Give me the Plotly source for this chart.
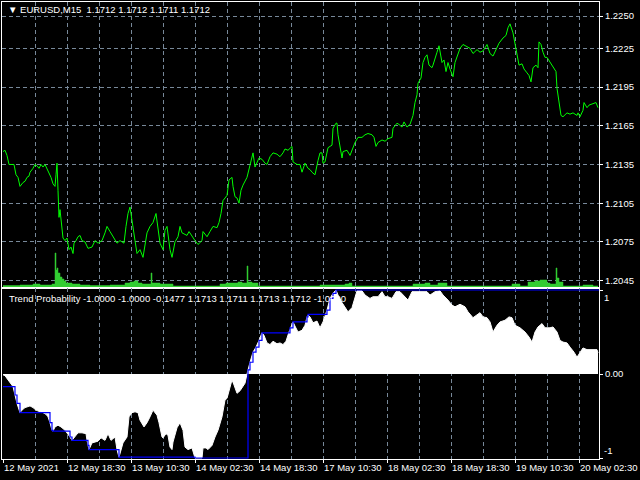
import plotly.graph_objects as go

# ---------------- data (x = M15 bar index from the left edge) ----------------
price_idx = [0, 2, 4, 6, 9, 11, 13, 15, 17, 20, 22, 24, 26, 27, 30, 32, 34, 36, 38, 40, 42, 44, 46, 48, 50, 52,
             53, 54, 55, 56, 57, 58, 59, 60, 62, 64, 66, 68, 70, 71, 73, 75, 77, 79, 82, 85, 89, 92, 95, 99,
             102, 104, 107, 110, 114, 117, 121, 123, 125, 127, 129, 130, 132, 134, 137, 140, 142, 144, 147,
             150, 153, 157, 160, 162, 164, 165, 167, 169, 172, 175, 177, 179, 184, 186, 189, 192, 195, 199,
             200, 204, 207, 210, 214, 216, 218, 220, 222, 224, 226, 229, 230, 232, 234, 236, 238, 240, 244,
             246, 249, 250, 252, 254, 256, 259, 262, 264, 267, 270, 274, 277, 280, 282, 285, 289, 290, 294,
             297, 299, 302, 305, 307, 309, 312, 315, 317, 319, 320, 322, 325, 329, 330, 333, 334, 335, 337,
             339, 340, 344, 347, 350, 352, 355, 359, 362, 365, 369, 371, 373, 375, 379, 382, 385, 389, 390,
             394, 396, 399, 401, 404, 407, 410, 412, 414, 415, 418, 420, 422, 424, 426, 429, 430, 434, 436,
             439, 441, 443, 445, 447, 450, 452, 454, 457, 460, 464, 467, 470, 474, 477, 480, 484, 487, 490,
             493, 496, 500, 503, 505, 507, 510, 512, 514, 516, 519, 521, 524, 526, 528, 530, 533, 535, 536,
             538, 540, 542, 544, 547, 550, 553, 554, 556, 558, 560, 564, 567, 570, 574, 575, 577, 580, 581,
             584, 586, 590, 593, 595]
price_close = [1.2145, 1.2146, 1.2142, 1.2135, 1.2135, 1.2135, 1.2127, 1.2125, 1.2118, 1.2121, 1.2122, 1.2125,
               1.2126, 1.2129, 1.2132, 1.2135, 1.2134, 1.2132, 1.2135, 1.2133, 1.2135, 1.2132, 1.2128, 1.2125,
               1.2120, 1.2118, 1.2127, 1.2136, 1.2115, 1.2094, 1.2100, 1.2092, 1.2084, 1.2078, 1.2076, 1.2078,
               1.2069, 1.2071, 1.2066, 1.2074, 1.2076, 1.2079, 1.2080, 1.2076, 1.2075, 1.2070, 1.2071, 1.2076,
               1.2074, 1.2076, 1.2082, 1.2087, 1.2083, 1.2079, 1.2074, 1.2076, 1.2074, 1.2087, 1.2097, 1.2102,
               1.2090, 1.2087, 1.2076, 1.2066, 1.2069, 1.2063, 1.2071, 1.2082, 1.2087, 1.2090, 1.2097, 1.2074,
               1.2069, 1.2084, 1.2087, 1.2079, 1.2069, 1.2063, 1.2075, 1.2079, 1.2087, 1.2082, 1.2080, 1.2083,
               1.2079, 1.2076, 1.2073, 1.2076, 1.2083, 1.2079, 1.2083, 1.2087, 1.2086, 1.2090, 1.2097, 1.2107,
               1.2109, 1.2111, 1.2123, 1.2125, 1.2118, 1.2110, 1.2109, 1.2105, 1.2115, 1.2119, 1.2125, 1.2131,
               1.2141, 1.2144, 1.2133, 1.2137, 1.2140, 1.2139, 1.2136, 1.2135, 1.2141, 1.2144, 1.2143, 1.2141,
               1.2144, 1.2147, 1.2146, 1.2149, 1.2137, 1.2135, 1.2135, 1.2129, 1.2136, 1.2132, 1.2131, 1.2129,
               1.2127, 1.2138, 1.2144, 1.2144, 1.2136, 1.2137, 1.2148, 1.2150, 1.2163, 1.2167, 1.2167, 1.2158,
               1.2148, 1.2140, 1.2145, 1.2146, 1.2142, 1.2148, 1.2152, 1.2156, 1.2156, 1.2158, 1.2159, 1.2158,
               1.2156, 1.2149, 1.2152, 1.2154, 1.2153, 1.2155, 1.2156, 1.2163, 1.2167, 1.2166, 1.2164, 1.2168,
               1.2164, 1.2166, 1.2173, 1.2183, 1.2189, 1.2198, 1.2202, 1.2214, 1.2218, 1.2220, 1.2212, 1.2210,
               1.2212, 1.2222, 1.2227, 1.2214, 1.2216, 1.2207, 1.2214, 1.2209, 1.2203, 1.2214, 1.2218, 1.2225,
               1.2228, 1.2226, 1.2225, 1.2221, 1.2224, 1.2222, 1.2223, 1.2228, 1.2221, 1.2219, 1.2224, 1.2229,
               1.2233, 1.2235, 1.2241, 1.2244, 1.2237, 1.2229, 1.2222, 1.2212, 1.2213, 1.2209, 1.2206, 1.2204,
               1.2199, 1.2210, 1.2212, 1.2210, 1.2230, 1.2228, 1.2222, 1.2218, 1.2218, 1.2214, 1.2211, 1.2207,
               1.2194, 1.2183, 1.2173, 1.2172, 1.2175, 1.2174, 1.2175, 1.2173, 1.2175, 1.2172, 1.2177, 1.2183,
               1.2179, 1.2181, 1.2182, 1.2183, 1.2179]

vol_idx = [0, 17, 30, 37, 49, 52, 53, 54, 55, 57, 59, 61, 63, 69, 77, 87, 107, 122, 127, 131, 135, 139, 148,
           149, 157, 165, 170, 217, 223, 235, 239, 244, 245, 249, 255, 317, 342, 346, 349, 410, 422, 427, 435,
           444, 509, 517, 525, 532, 537, 544, 547, 553, 554, 556, 560, 580, 590, 595]
vol_ticks = [250, 300, 400, 300, 400, 3500, 1800, 2000, 1500, 1100, 900, 700, 500, 400, 300, 250, 300, 500,
             600, 700, 500, 400, 1500, 500, 400, 400, 200, 400, 500, 600, 500, 2200, 600, 500, 200, 300, 400,
             500, 200, 400, 500, 300, 500, 200, 400, 200, 600, 700, 800, 500, 400, 2000, 1000, 600, 200, 300,
             200, 200]

tp_idx = [0, 2, 5, 8, 10, 12, 14, 17, 19, 22, 25, 27, 30, 33, 37, 40, 43, 45, 47, 49, 50, 52, 55, 58, 62, 64,
          67, 69, 72, 75, 79, 83, 84, 86, 89, 92, 95, 98, 102, 105, 108, 112, 114, 116, 118, 120, 124, 126,
          129, 132, 135, 137, 141, 144, 147, 150, 154, 156, 159, 160, 163, 165, 167, 169, 170, 174, 177, 180,
          182, 185, 189, 190, 192, 196, 199, 200, 203, 205, 209, 212, 215, 219, 222, 224, 227, 229, 231, 234,
          237, 240, 242, 244, 245, 247, 250, 253, 256, 259, 261, 264, 267, 270, 274, 277, 280, 283, 286, 288,
          290, 292, 295, 299, 302, 304, 305, 307, 310, 314, 317, 320, 324, 327, 330, 333, 335, 339, 342, 345,
          349, 352, 354, 359, 362, 367, 370, 375, 379, 382, 385, 389, 393, 397, 402, 405, 409, 417, 424, 427,
          432, 437, 440, 445, 449, 452, 457, 462, 465, 470, 474, 477, 480, 484, 487, 490, 494, 497, 502, 506,
          509, 512, 517, 522, 526, 529, 532, 535, 539, 542, 547, 550, 554, 557, 560, 564, 567, 571, 574, 577,
          580, 584, 587, 590, 594, 595]
tp_value = [-0.01, -0.02, -0.07, -0.12, -0.15, -0.25, -0.35, -0.46, -0.43, -0.40, -0.39, -0.38, -0.40, -0.43,
            -0.45, -0.46, -0.48, -0.51, -0.58, -0.67, -0.68, -0.63, -0.61, -0.63, -0.67, -0.70, -0.75, -0.79,
            -0.74, -0.70, -0.70, -0.71, -0.79, -0.90, -0.82, -0.81, -0.80, -0.76, -0.79, -0.71, -0.79, -0.75,
            -0.90, -0.99, -0.90, -0.82, -0.75, -0.51, -0.46, -0.45, -0.46, -0.55, -0.63, -0.58, -0.51, -0.43,
            -0.49, -0.58, -0.75, -0.76, -0.71, -0.73, -0.87, -0.90, -0.81, -0.64, -0.58, -0.67, -0.87, -0.90,
            -0.88, -0.93, -1.00, -1.00, -1.00, -0.88, -0.88, -0.90, -0.85, -0.75, -0.67, -0.51, -0.31, -0.29,
            -0.15, -0.07, -0.13, -0.23, -0.20, -0.14, -0.11, 0.00, 0.05, 0.14, 0.26, 0.32, 0.40, 0.49, 0.46,
            0.37, 0.35, 0.39, 0.36, 0.37, 0.35, 0.39, 0.50, 0.57, 0.62, 0.57, 0.50, 0.52, 0.58, 0.68, 0.70,
            0.68, 0.61, 0.63, 0.55, 0.62, 0.76, 0.90, 0.96, 1.00, 0.94, 0.85, 0.79, 0.74, 0.79, 0.90, 0.99,
            0.99, 0.94, 0.90, 0.92, 0.92, 0.98, 0.92, 0.92, 0.90, 0.98, 0.98, 0.92, 0.88, 0.98, 0.98, 0.98,
            0.94, 0.98, 0.99, 0.94, 0.88, 0.82, 0.80, 0.83, 0.80, 0.74, 0.67, 0.71, 0.73, 0.68, 0.67, 0.62,
            0.50, 0.58, 0.62, 0.64, 0.68, 0.67, 0.58, 0.55, 0.50, 0.44, 0.38, 0.50, 0.56, 0.60, 0.55, 0.55,
            0.56, 0.50, 0.40, 0.38, 0.37, 0.32, 0.26, 0.20, 0.25, 0.31, 0.29, 0.29, 0.29, 0.29, 0.25]

env_idx = [0, 10, 12, 14, 17, 47, 49, 50, 67, 69, 85, 86, 116, 192, 245, 247, 250, 253, 256, 259, 287, 290,
           304, 305, 324, 327, 330, 333, 596]
env_value = [-0.15, -0.15, -0.25, -0.35, -0.46, -0.58, -0.67, -0.68, -0.75, -0.79, -0.85, -0.90, -0.99, -1.00,
             0.05, 0.14, 0.26, 0.32, 0.40, 0.49, 0.55, 0.62, 0.68, 0.71, 0.76, 0.90, 0.96, 1.00, 1.00]

time_tick_idx = [0, 64, 128, 192, 256, 320, 384, 448, 512, 576]
time_tick_text = ["12 May 2021", "12 May 18:30", "13 May 10:30", "14 May 02:30", "14 May 18:30",
                  "17 May 10:30", "18 May 02:30", "18 May 18:30", "19 May 10:30", "20 May 02:30"]
grid_idx = [32, 64, 96, 128, 160, 192, 224, 256, 288, 320, 352, 384, 416, 448, 480, 512, 544, 576]
price_ticks = [1.2250, 1.2225, 1.2195, 1.2165, 1.2135, 1.2105, 1.2075, 1.2045]

main_title = "\u25bc\u00a0EURUSD,M15\u00a0\u00a01.1712 1.1712 1.1711 1.1712"
sub_title = "Trend Probability -1.0000 -1.0000 -0.1477 1.1713 1.1711 1.1713 1.1712 -1.0000"

# ---------------- figure ----------------
GRID = "#778899"
DASH = "4px,3px"
FONT = "Liberation Sans, Arial, sans-serif"
FS = 9.5
split = (459 - 288) / 457.0

fig = go.Figure()
fig.add_trace(go.Scatter(x=price_idx, y=price_close, xaxis="x", yaxis="y", mode="lines",
                         line=dict(color="#00FF00", width=1), hoverinfo="skip"))
fig.add_trace(go.Scatter(x=vol_idx, y=vol_ticks, xaxis="x", yaxis="y3", mode="lines",
                         line=dict(color="#32CD32", width=0.5, shape="hv"), fill="tozeroy",
                         fillcolor="#32CD32", hoverinfo="skip"))
fig.add_trace(go.Scatter(x=tp_idx, y=tp_value, xaxis="x2", yaxis="y2", mode="lines",
                         line=dict(color="white", width=1), fill="tozeroy", fillcolor="white",
                         hoverinfo="skip"))
fig.add_trace(go.Scatter(x=env_idx, y=env_value, xaxis="x2", yaxis="y2", mode="lines",
                         line=dict(color="#0000FF", width=1.2, shape="hv"), hoverinfo="skip"))

xcommon = dict(range=[-1, 596], showgrid=False, zeroline=False, showline=True, linecolor="white",
               linewidth=1, mirror=True, automargin=False,
               minor=dict(tickmode="array", tickvals=grid_idx, showgrid=True, gridcolor=GRID,
                          griddash=DASH, gridwidth=1, ticks=""))

fig.update_layout(
    width=640, height=480,
    margin=dict(l=2, r=41, t=2, b=21, autoexpand=False),
    paper_bgcolor="black", plot_bgcolor="black", showlegend=False,
    font=dict(family=FONT, size=FS, color="white"),
    xaxis=dict(domain=[0, 1], anchor="y", tickmode="array", tickvals=time_tick_idx,
               showticklabels=False, ticks="", **xcommon),
    xaxis2=dict(domain=[0, 1], anchor="y2", tickmode="array", tickvals=time_tick_idx,
                ticktext=time_tick_text, ticks="outside", ticklen=3, tickcolor="white", tickangle=0,
                ticklabelposition="outside right", tickfont=dict(family=FONT, size=FS, color="white"),
                **xcommon),
    yaxis=dict(domain=[split, 1], anchor="x", side="right", range=[1.203926, 1.226092],
               tickmode="array", tickvals=price_ticks, ticktext=["%.4f" % v for v in price_ticks],
               ticks="outside", ticklen=3, tickcolor="white", showgrid=True, gridcolor=GRID,
               griddash=DASH, gridwidth=1, zeroline=False, showline=True, linecolor="white",
               mirror=True, automargin=False, tickfont=dict(family=FONT, size=FS, color="white")),
    yaxis3=dict(overlaying="y", anchor="x", range=[0, 28600], visible=False),
    yaxis2=dict(domain=[0, split], anchor="x2", side="right", range=[-1.0119, 1.0238],
                tickmode="array", tickvals=[1, 0, -1], ticktext=["", "0.00", ""],
                ticks="outside", ticklen=3, tickcolor="white", showgrid=False, zeroline=False,
                showline=True, linecolor="white", mirror=True, automargin=False,
                tickfont=dict(family=FONT, size=FS, color="white")),
    annotations=[
        dict(text=main_title, xref="paper", yref="paper", x=(6 - 2) / 597.0, y=(459 - 10) / 457.0,
             xanchor="left", yanchor="middle", showarrow=False, font=dict(family=FONT, size=FS, color="white")),
        dict(text=sub_title, xref="paper", yref="paper", x=(7 - 2) / 597.0, y=(459 - 298.5) / 457.0,
             xanchor="left", yanchor="middle", showarrow=False, font=dict(family=FONT, size=FS, color="white")),
        dict(text="1", xref="paper", yref="y2", x=1, y=1, xanchor="left", yanchor="top", xshift=3,
             showarrow=False, font=dict(family=FONT, size=FS, color="white")),
        dict(text="-1", xref="paper", yref="y2", x=1, y=-1, xanchor="left", yanchor="bottom", xshift=3,
             showarrow=False, font=dict(family=FONT, size=FS, color="white")),
    ],
)

fig.write_html("out.html", config={"displayModeBar": False},
               post_script="document.body.style.margin='0';document.body.style.background='black';"
                           "document.body.style.overflow='hidden';")
